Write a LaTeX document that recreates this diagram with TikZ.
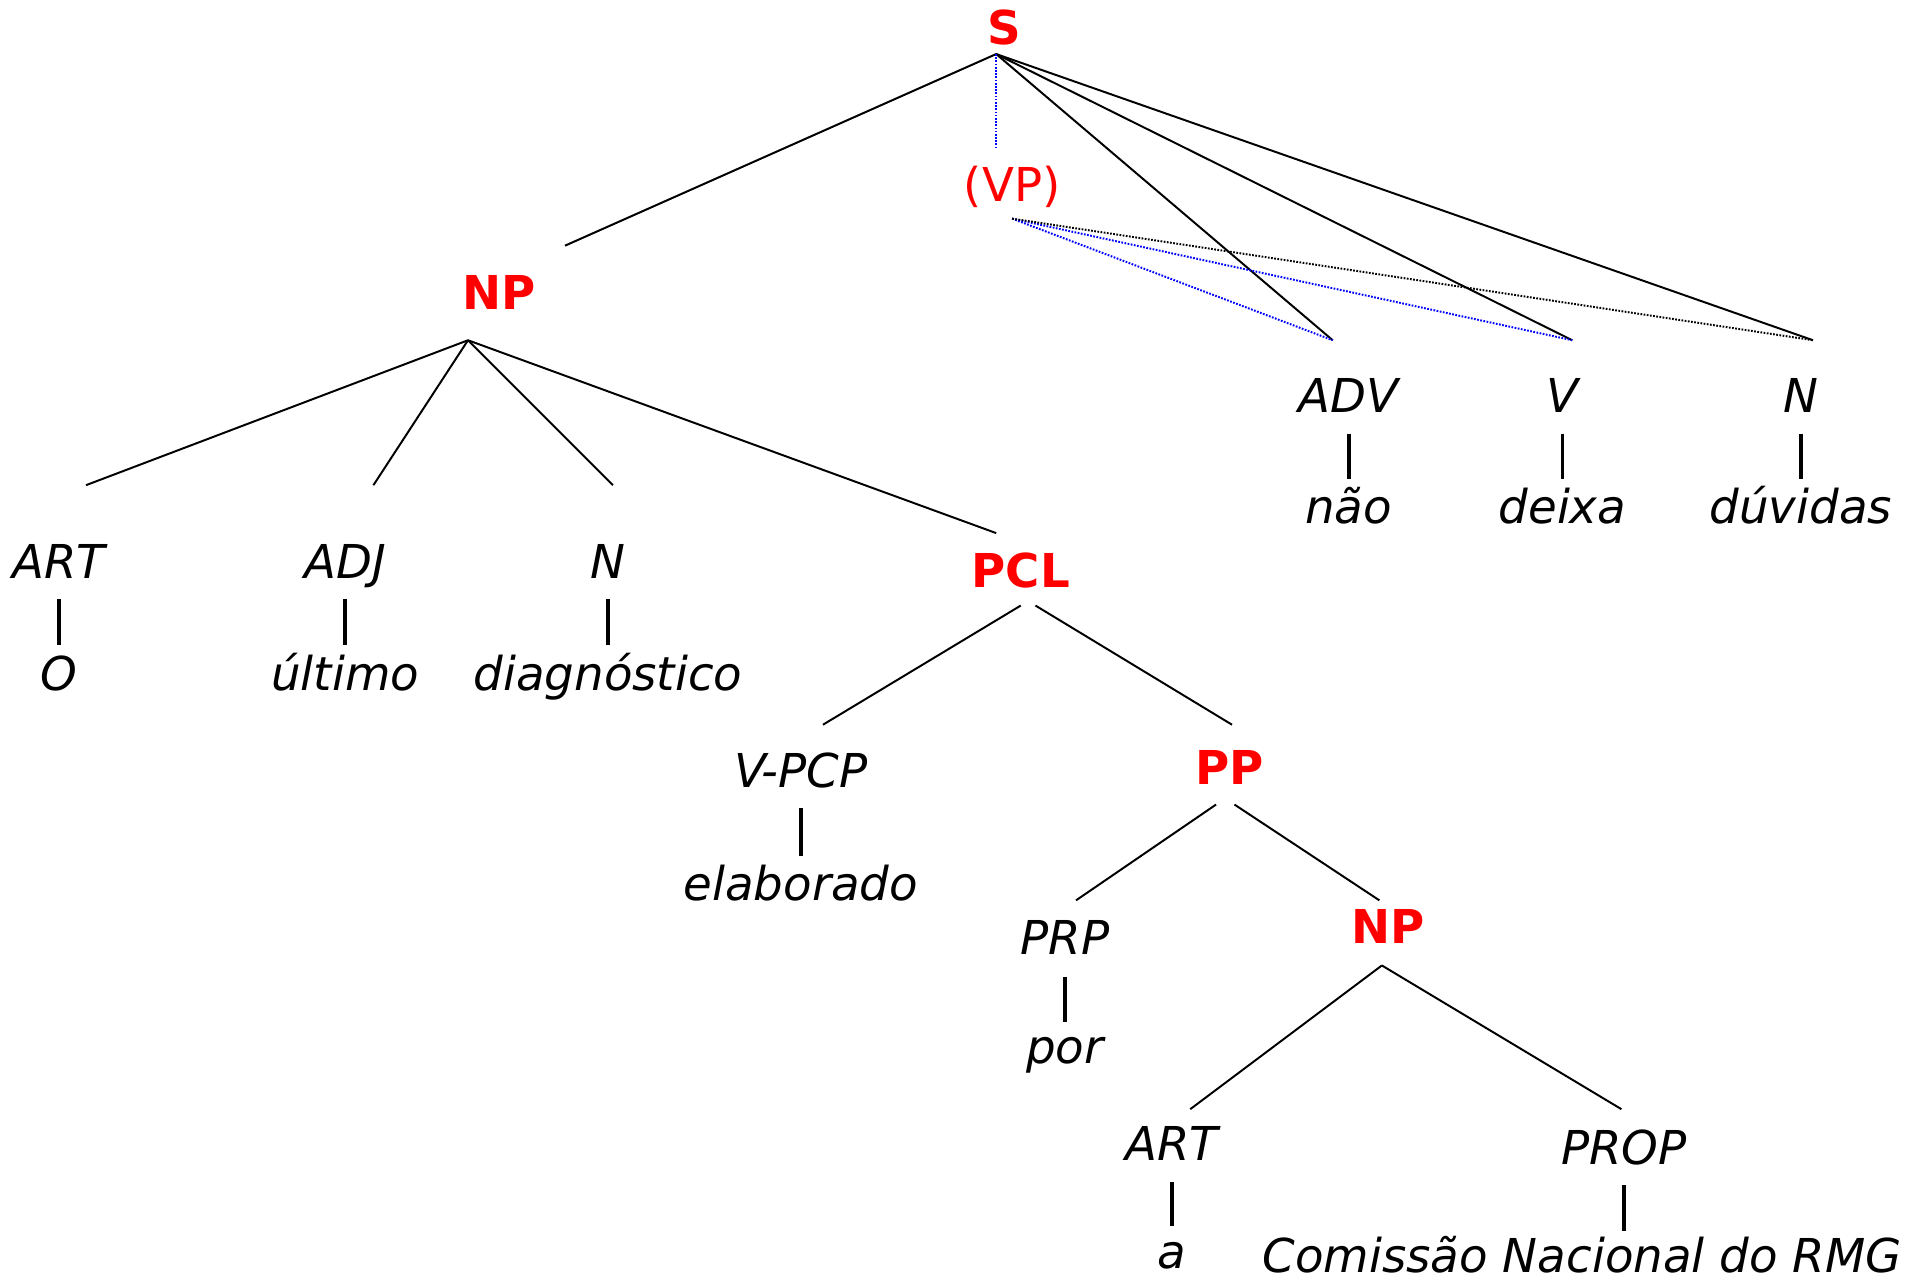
\documentclass[tikz,border=0pt]{standalone}
\usepackage{fontspec}
\setmainfont{DejaVu Sans}
\begin{document}
\begin{tikzpicture}[x=0.5pt,y=-0.5pt]
\tikzset{
  cat/.style={font=\fontsize{19}{23}\selectfont\itshape, anchor=base, inner sep=0pt},
  phrase/.style={font=\fontsize{19}{23}\selectfont\bfseries, text=red, anchor=base, inner sep=0pt},
  empty/.style={font=\fontsize{19}{23}\selectfont, text=red, anchor=base, inner sep=0pt},
  branch/.style={black, line width=0.8pt},
  stem/.style={black, line width=1.5pt},
  bluetrace/.style={blue, line width=0.8pt, dash pattern=on 0.7pt off 0.6pt},
  blacktrace/.style={black, line width=0.8pt, dash pattern=on 0.7pt off 0.6pt},
}
\useasboundingbox (0,0) rectangle (1568,1044);

% ---- labels ----
\node[phrase] (S) at (818,36) {S};
\node[empty] (VP) at (824,164) {(VP)};
\node[phrase] (NP1) at (406,252) {NP};
\node[cat] (ART1) at (48,471) {ART};
\node[cat] (ADJ) at (281,471) {ADJ};
\node[cat] (N1) at (495,471) {N};
\node[cat] (O) at (48,562) {O};
\node[cat] (ultimo) at (281,562) {último};
\node[cat] (diag) at (495,562) {diagnóstico};
\node[phrase] (PCL) at (831,478) {PCL};
\node[cat] (VPCP) at (652,641) {V-PCP};
\node[cat] (elab) at (652,733) {elaborado};
\node[phrase] (PP) at (1001,639) {PP};
\node[cat] (PRP) at (867,777) {PRP};
\node[cat] (por) at (867,866) {por};
\node[phrase] (NP2) at (1130,768) {NP};
\node[cat] (ART2) at (954,945) {ART};
\node[cat] (a) at (954,1033) {a};
\node[cat] (PROP) at (1322,948) {PROP};
\node[cat] (CNR) at (1288,1036) {Comissão Nacional do RMG};
\node[cat] (ADV) at (1098,336) {ADV};
\node[cat] (V) at (1272,336) {V};
\node[cat] (N2) at (1466,336) {N};
\node[cat] (nao) at (1098,426) {não};
\node[cat] (deixa) at (1272,426) {deixa};
\node[cat] (duvidas) at (1466,426) {dúvidas};

% ---- attachment points ----
\coordinate (S-b) at (811,44);
\coordinate (VP-t) at (811,120);
\coordinate (VP-b) at (824,178);
\coordinate (NP1-t) at (460,200);
\coordinate (NP1-b) at (381,277);
\coordinate (ADV-t) at (1085,277);
\coordinate (V-t) at (1280,277);
\coordinate (N2-t) at (1476,277);
\coordinate (ART1-t) at (70,395);
\coordinate (ADJ-t) at (304,395);
\coordinate (N1-t) at (499,395);
\coordinate (PCL-t) at (811,434);
\coordinate (PCL-bl) at (831,493);
\coordinate (PCL-br) at (843,493);
\coordinate (VPCP-t) at (670,590);
\coordinate (PP-t) at (1003,590);
\coordinate (PP-bl) at (990,655);
\coordinate (PP-br) at (1005,655);
\coordinate (PRP-t) at (876,733);
\coordinate (NP2-t) at (1123,733);
\coordinate (NP2-b) at (1125,786);
\coordinate (ART2-t) at (969,903);
\coordinate (PROP-t) at (1320,903);

% ---- branches ----
\draw[branch] (S-b) -- (NP1-t);
\draw[branch] (S-b) -- (ADV-t);
\draw[branch] (S-b) -- (V-t);
\draw[branch] (S-b) -- (N2-t);
\draw[bluetrace] (S-b) -- (VP-t);
\draw[bluetrace] (VP-b) -- (ADV-t);
\draw[bluetrace] (VP-b) -- (V-t);
\draw[blacktrace] (VP-b) -- (N2-t);

\draw[branch] (NP1-b) -- (ART1-t);
\draw[branch] (NP1-b) -- (ADJ-t);
\draw[branch] (NP1-b) -- (N1-t);
\draw[branch] (NP1-b) -- (PCL-t);
\draw[branch] (PCL-bl) -- (VPCP-t);
\draw[branch] (PCL-br) -- (PP-t);
\draw[branch] (PP-bl) -- (PRP-t);
\draw[branch] (PP-br) -- (NP2-t);
\draw[branch] (NP2-b) -- (ART2-t);
\draw[branch] (NP2-b) -- (PROP-t);

% ---- lexical stems ----
\draw[stem] (ART1.south |- 0,488) -- (ART1.south |- 0,525);
\draw[stem] (ADJ.south |- 0,488) -- (ADJ.south |- 0,525);
\draw[stem] (N1.south |- 0,488) -- (N1.south |- 0,525);
\draw[stem] (VPCP.south |- 0,658) -- (VPCP.south |- 0,697);
\draw[stem] (PRP.south |- 0,795) -- (PRP.south |- 0,832);
\draw[stem] (ART2.south |- 0,962) -- (ART2.south |- 0,998);
\draw[stem] (PROP.south |- 0,965) -- (PROP.south |- 0,1002);
\draw[stem] (ADV.south |- 0,353) -- (ADV.south |- 0,390);
\draw[stem] (V.south |- 0,353) -- (V.south |- 0,390);
\draw[stem] (N2.south |- 0,353) -- (N2.south |- 0,390);
\end{tikzpicture}
\end{document}
